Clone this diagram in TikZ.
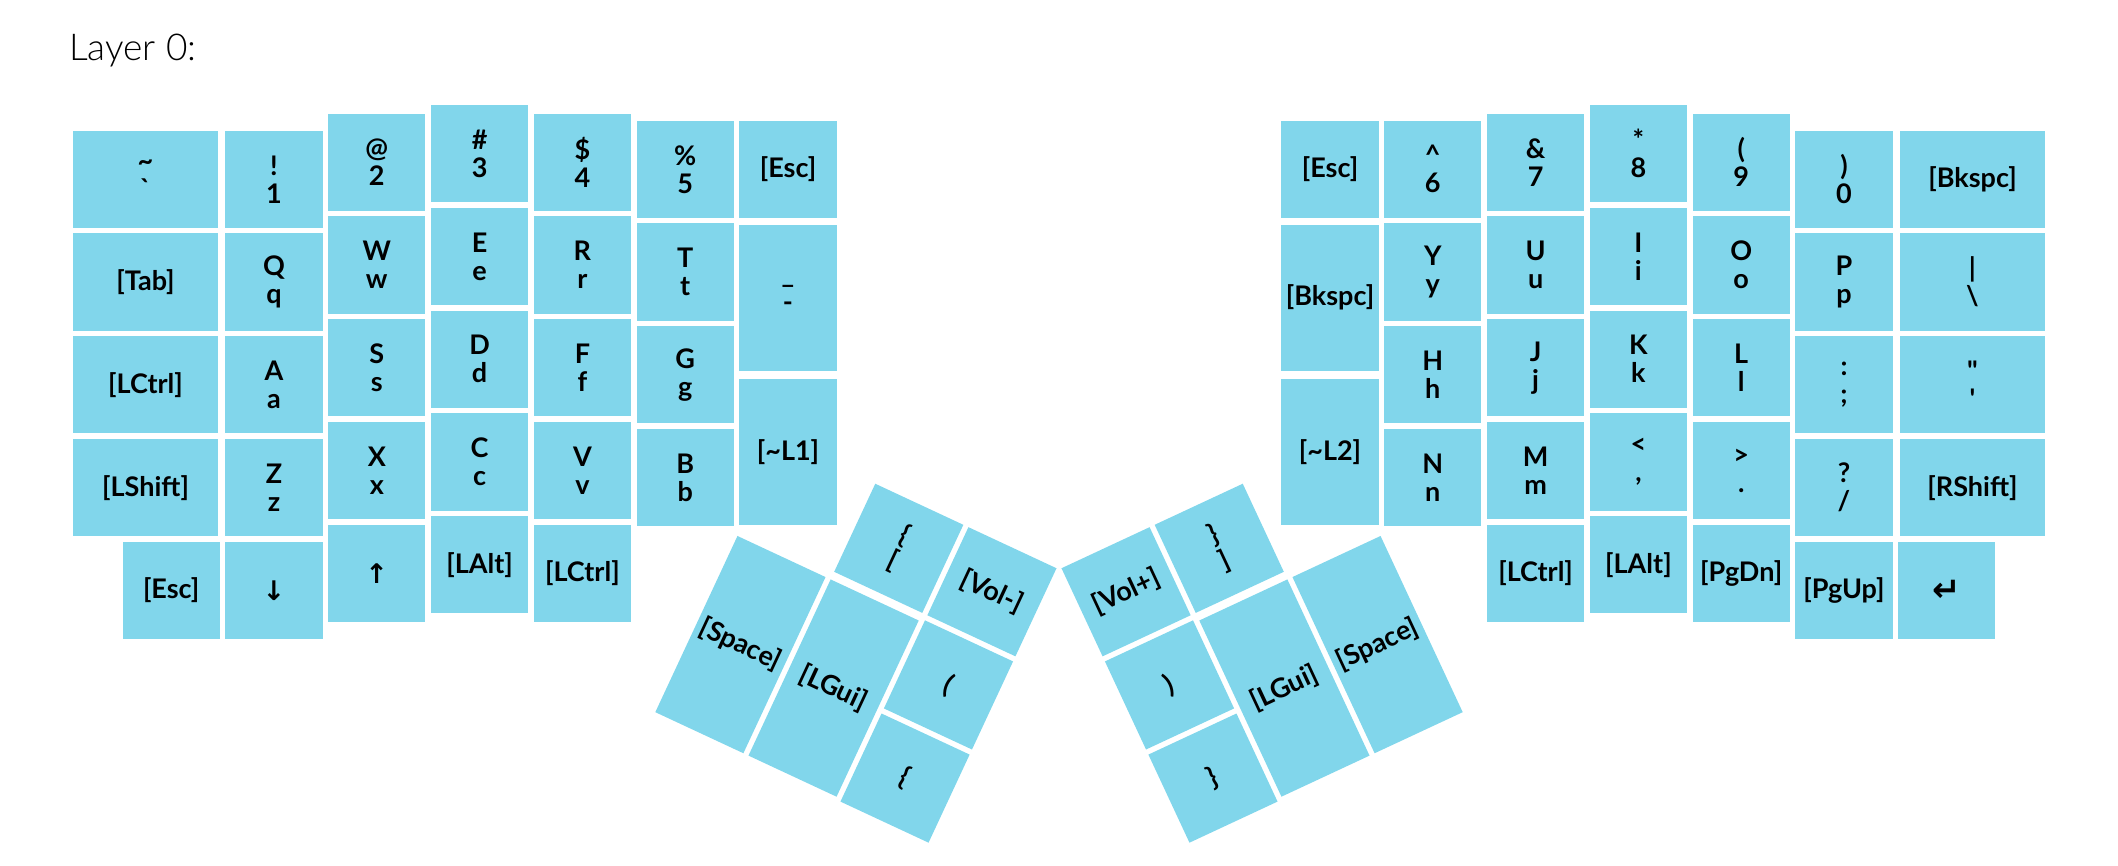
\documentclass[tikz,border=0pt]{standalone}
\usepackage{fontspec}
\setmainfont{Lato}
\IfFontExistsTF{Lato Light}{\newfontfamily\titlefont{Lato Light}}{\newfontfamily\titlefont{Lato}}
\newfontfamily\arrowfont{DejaVu Sans}
\definecolor{keyblue}{RGB}{129,214,235}
\tikzset{
  keybox/.style={fill=keyblue, draw=none, inner sep=0pt, outer sep=0pt,
    align=center, text=black, font=\bfseries\fontsize{27}{28}\selectfont},
  titletext/.style={anchor=base west, inner sep=0pt, font=\titlefont\fontsize{37}{40}\selectfont}
}
% name, slot x, slot y, w, h, label
\newcommand\kk[6]{%
  \node[keybox, minimum width=#4*97.2pt, minimum height=#5*97.2pt] (#1)
    at ({#2+#4*51.4},{#3+#5*51.4}) {#6};}
% rotated key: name, centre u, centre v (units), h, angle, label
\newcommand\tk[6]{%
  \node[keybox, rotate=#5, minimum width=97.2pt, minimum height=#4*97.2pt] (#1)
    at ({#2*102.8},{#3*102.8}) {#6};}
\begin{document}
\begin{tikzpicture}[x=1pt,y=-1pt]
\useasboundingbox (0,0) rectangle (2118,866);
\node[titletext] (title) at (69,60.7) {Layer 0:};
% ---------- left hand ----------
\kk{l00}{68.4}{127.9}{1.5}{1}{\textasciitilde\\\textasciigrave}
\kk{l01}{68.4}{230.7}{1.5}{1}{[Tab]}
\kk{l02}{68.4}{333.5}{1.5}{1}{[LCtrl]}
\kk{l03}{68.4}{436.3}{1.5}{1}{[LShift]}
\kk{l04}{119.8}{539.1}{1}{1}{[Esc]}
\kk{l10}{222.6}{127.9}{1}{1}{!\\1}
\kk{l11}{222.6}{230.7}{1}{1}{Q\\q}
\kk{l12}{222.6}{333.5}{1}{1}{A\\a}
\kk{l13}{222.6}{436.3}{1}{1}{Z\\z}
\kk{l14}{222.6}{539.1}{1}{1}{{\arrowfont ↓}}
\kk{l20}{325.4}{110.9}{1}{1}{@\\2}
\kk{l21}{325.4}{213.7}{1}{1}{W\\w}
\kk{l22}{325.4}{316.5}{1}{1}{S\\s}
\kk{l23}{325.4}{419.3}{1}{1}{X\\x}
\kk{l24}{325.4}{522.1}{1}{1}{{\arrowfont ↑}}
\kk{l30}{428.2}{102.2}{1}{1}{\#\\3}
\kk{l31}{428.2}{205.0}{1}{1}{E\\e}
\kk{l32}{428.2}{307.8}{1}{1}{D\\d}
\kk{l33}{428.2}{410.6}{1}{1}{C\\c}
\kk{l34}{428.2}{513.4}{1}{1}{[LAlt]}
\kk{l40}{531.0}{110.9}{1}{1}{\$\\4}
\kk{l41}{531.0}{213.7}{1}{1}{R\\r}
\kk{l42}{531.0}{316.5}{1}{1}{F\\f}
\kk{l43}{531.0}{419.3}{1}{1}{V\\v}
\kk{l44}{531.0}{522.1}{1}{1}{[LCtrl]}
\kk{l50}{633.8}{117.9}{1}{1}{\%\\5}
\kk{l51}{633.8}{220.7}{1}{1}{T\\t}
\kk{l52}{633.8}{323.5}{1}{1}{G\\g}
\kk{l53}{633.8}{426.3}{1}{1}{B\\b}
\kk{l60}{736.6}{117.9}{1}{1}{[Esc]}
\kk{l61}{736.6}{220.7}{1}{1.5}{\_\\-}
\kk{l62}{736.6}{374.9}{1}{1.5}{[\textasciitilde L1]}
% ---------- right hand ----------
\kk{r60}{1278.6}{117.9}{1}{1}{[Esc]}
\kk{r61}{1278.6}{220.7}{1}{1.5}{[Bkspc]}
\kk{r62}{1278.6}{374.9}{1}{1.5}{[\textasciitilde L2]}
\kk{r50}{1381.4}{117.9}{1}{1}{\textasciicircum\\6}
\kk{r51}{1381.4}{220.7}{1}{1}{Y\\y}
\kk{r52}{1381.4}{323.5}{1}{1}{H\\h}
\kk{r53}{1381.4}{426.3}{1}{1}{N\\n}
\kk{r40}{1484.2}{110.9}{1}{1}{\&\\7}
\kk{r41}{1484.2}{213.7}{1}{1}{U\\u}
\kk{r42}{1484.2}{316.5}{1}{1}{J\\j}
\kk{r43}{1484.2}{419.3}{1}{1}{M\\m}
\kk{r44}{1484.2}{522.1}{1}{1}{[LCtrl]}
\kk{r30}{1587.0}{102.2}{1}{1}{*\\8}
\kk{r31}{1587.0}{205.0}{1}{1}{I\\i}
\kk{r32}{1587.0}{307.8}{1}{1}{K\\k}
\kk{r33}{1587.0}{410.6}{1}{1}{<\\,}
\kk{r34}{1587.0}{513.4}{1}{1}{[LAlt]}
\kk{r20}{1689.8}{110.9}{1}{1}{(\\9}
\kk{r21}{1689.8}{213.7}{1}{1}{O\\o}
\kk{r22}{1689.8}{316.5}{1}{1}{L\\l}
\kk{r23}{1689.8}{419.3}{1}{1}{>\\.}
\kk{r24}{1689.8}{522.1}{1}{1}{[PgDn]}
\kk{r10}{1792.6}{127.9}{1}{1}{)\\0}
\kk{r11}{1792.6}{230.7}{1}{1}{P\\p}
\kk{r12}{1792.6}{333.5}{1}{1}{:\\;}
\kk{r13}{1792.6}{436.3}{1}{1}{?\\/}
\kk{r14}{1792.6}{539.1}{1}{1}{[PgUp]}
\kk{r00}{1895.4}{127.9}{1.5}{1}{[Bkspc]}
\kk{r01}{1895.4}{230.7}{1.5}{1}{\textbar\\\textbackslash}
\kk{r02}{1895.4}{333.5}{1.5}{1}{\textquotedbl\\\textquotesingle}
\kk{r03}{1895.4}{436.3}{1.5}{1}{[RShift]}
\kk{r04}{1895.4}{539.1}{1}{1}{{\arrowfont\fontsize{34}{34}\selectfont ↵}}
% ---------- left thumb ----------
\begin{scope}[shift={(873.9,480)}, rotate=-25]
\tk{lt1}{0.5}{0.5}{1}{-25}{\{\\{[}}
\tk{lt2}{1.5}{0.5}{1}{-25}{[Vol-]}
\tk{lt3}{1.5}{1.5}{1}{-25}{(}
\tk{lt4}{1.5}{2.5}{1}{-25}{\{}
\tk{lt5}{0.5}{2}{2}{-25}{[LGui]}
\tk{lt6}{-0.5}{2}{2}{-25}{[Space]}
\end{scope}
% ---------- right thumb ----------
\begin{scope}[shift={(1244.1,480)}, rotate=25]
\tk{rt1}{-0.5}{0.5}{1}{25}{\}\\{]}}
\tk{rt2}{-1.5}{0.5}{1}{25}{[Vol+]}
\tk{rt3}{-1.5}{1.5}{1}{25}{)}
\tk{rt4}{-1.5}{2.5}{1}{25}{\}}
\tk{rt5}{-0.5}{2}{2}{25}{[LGui]}
\tk{rt6}{0.5}{2}{2}{25}{[Space]}
\end{scope}
\end{tikzpicture}
\end{document}
